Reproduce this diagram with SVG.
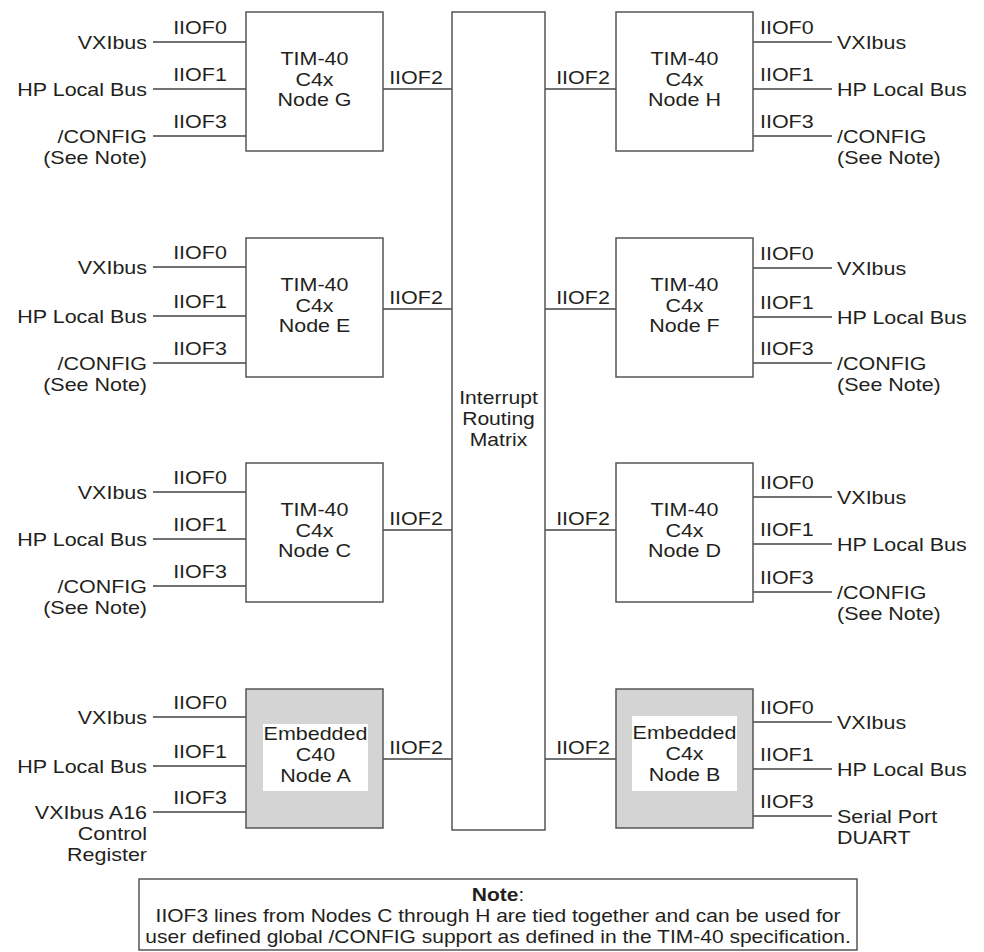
<svg xmlns="http://www.w3.org/2000/svg" width="984" height="952" viewBox="0 0 984 952">
<style>
text{font-family:"Liberation Sans",Arial,Helvetica,sans-serif;font-size:18.2px;fill:#231f20}
.n{font-size:17.8px}
.e{text-anchor:end}.m{text-anchor:middle}
.box{fill:#fff;stroke:#555;stroke-width:1.5}
.gbox{fill:#d4d4d4;stroke:#555;stroke-width:1.5}
.inner{fill:#fff;stroke:none}
.w{stroke:#444;stroke-width:1.5;fill:none}
</style>
<rect width="984" height="952" fill="#fff"/>
<g id="connectors" class="w">
<path d="M153 42H246M153 89H246M153 136H246M383 89H452"/>
<path d="M153 267H246M153 316H246M153 363H246M383 309H452"/>
<path d="M153 492H246M153 539H246M153 586H246M383 530H452"/>
<path d="M153 717H246M153 766H246M153 812H246M383 759H452"/>
<path d="M753 42H832M753 89H832M753 136H832M545 89H616"/>
<path d="M753 268H832M753 317H832M753 363H832M545 309H616"/>
<path d="M753 497H832M753 544H832M753 592H832M545 530H616"/>
<path d="M753 722H832M753 769H832M753 816H832M545 759H616"/>
</g>
<g id="connector-labels">
<text class="m" transform="matrix(1.18 0 0 1 200 34)">IIOF0</text><text class="m" transform="matrix(1.18 0 0 1 200 81)">IIOF1</text><text class="m" transform="matrix(1.18 0 0 1 200 128)">IIOF3</text><text class="m" transform="matrix(1.18 0 0 1 416 84)">IIOF2</text>
<text class="m" transform="matrix(1.18 0 0 1 200 259)">IIOF0</text><text class="m" transform="matrix(1.18 0 0 1 200 308)">IIOF1</text><text class="m" transform="matrix(1.18 0 0 1 200 355)">IIOF3</text><text class="m" transform="matrix(1.18 0 0 1 416 304)">IIOF2</text>
<text class="m" transform="matrix(1.18 0 0 1 200 484)">IIOF0</text><text class="m" transform="matrix(1.18 0 0 1 200 531)">IIOF1</text><text class="m" transform="matrix(1.18 0 0 1 200 578)">IIOF3</text><text class="m" transform="matrix(1.18 0 0 1 416 525)">IIOF2</text>
<text class="m" transform="matrix(1.18 0 0 1 200 709)">IIOF0</text><text class="m" transform="matrix(1.18 0 0 1 200 758)">IIOF1</text><text class="m" transform="matrix(1.18 0 0 1 200 804)">IIOF3</text><text class="m" transform="matrix(1.18 0 0 1 416 754)">IIOF2</text>
<text transform="matrix(1.18 0 0 1 760 34)">IIOF0</text><text transform="matrix(1.18 0 0 1 760 81)">IIOF1</text><text transform="matrix(1.18 0 0 1 760 128)">IIOF3</text><text class="m" transform="matrix(1.18 0 0 1 583 84)">IIOF2</text>
<text transform="matrix(1.18 0 0 1 760 260)">IIOF0</text><text transform="matrix(1.18 0 0 1 760 309)">IIOF1</text><text transform="matrix(1.18 0 0 1 760 355)">IIOF3</text><text class="m" transform="matrix(1.18 0 0 1 583 304)">IIOF2</text>
<text transform="matrix(1.18 0 0 1 760 489)">IIOF0</text><text transform="matrix(1.18 0 0 1 760 536)">IIOF1</text><text transform="matrix(1.18 0 0 1 760 584)">IIOF3</text><text class="m" transform="matrix(1.18 0 0 1 583 525)">IIOF2</text>
<text transform="matrix(1.18 0 0 1 760 714)">IIOF0</text><text transform="matrix(1.18 0 0 1 760 761)">IIOF1</text><text transform="matrix(1.18 0 0 1 760 808)">IIOF3</text><text class="m" transform="matrix(1.18 0 0 1 583 754)">IIOF2</text>
</g>
<g id="endpoint-labels">
<text class="e" transform="matrix(1.18 0 0 1 147 49)">VXIbus</text><text class="e" transform="matrix(1.18 0 0 1 147 96)">HP Local Bus</text><text class="e" transform="matrix(1.18 0 0 1 147 143)">/CONFIG</text><text class="e" transform="matrix(1.18 0 0 1 147 164)">(See Note)</text>
<text class="e" transform="matrix(1.18 0 0 1 147 274)">VXIbus</text><text class="e" transform="matrix(1.18 0 0 1 147 323)">HP Local Bus</text><text class="e" transform="matrix(1.18 0 0 1 147 370)">/CONFIG</text><text class="e" transform="matrix(1.18 0 0 1 147 391)">(See Note)</text>
<text class="e" transform="matrix(1.18 0 0 1 147 499)">VXIbus</text><text class="e" transform="matrix(1.18 0 0 1 147 546)">HP Local Bus</text><text class="e" transform="matrix(1.18 0 0 1 147 593)">/CONFIG</text><text class="e" transform="matrix(1.18 0 0 1 147 614)">(See Note)</text>
<text class="e" transform="matrix(1.18 0 0 1 147 724)">VXIbus</text><text class="e" transform="matrix(1.18 0 0 1 147 773)">HP Local Bus</text><text class="e" transform="matrix(1.18 0 0 1 147 819)">VXIbus A16</text><text class="e" transform="matrix(1.18 0 0 1 147 840)">Control</text><text class="e" transform="matrix(1.18 0 0 1 147 861)">Register</text>
<text transform="matrix(1.18 0 0 1 837 49)">VXIbus</text><text transform="matrix(1.18 0 0 1 837 96)">HP Local Bus</text><text transform="matrix(1.18 0 0 1 837 143)">/CONFIG</text><text transform="matrix(1.18 0 0 1 837 164)">(See Note)</text>
<text transform="matrix(1.18 0 0 1 837 275)">VXIbus</text><text transform="matrix(1.18 0 0 1 837 324)">HP Local Bus</text><text transform="matrix(1.18 0 0 1 837 370)">/CONFIG</text><text transform="matrix(1.18 0 0 1 837 391)">(See Note)</text>
<text transform="matrix(1.18 0 0 1 837 504)">VXIbus</text><text transform="matrix(1.18 0 0 1 837 551)">HP Local Bus</text><text transform="matrix(1.18 0 0 1 837 599)">/CONFIG</text><text transform="matrix(1.18 0 0 1 837 620)">(See Note)</text>
<text transform="matrix(1.18 0 0 1 837 729)">VXIbus</text><text transform="matrix(1.18 0 0 1 837 776)">HP Local Bus</text><text transform="matrix(1.18 0 0 1 837 823)">Serial Port</text><text transform="matrix(1.18 0 0 1 837 844)">DUART</text>
</g>
<g id="matrix">
<rect class="box" x="452" y="12" width="93" height="818"/>
<text class="m" transform="matrix(1.16 0 0 1 498.5 404)">Interrupt</text><text class="m" transform="matrix(1.16 0 0 1 498.5 425)">Routing</text><text class="m" transform="matrix(1.16 0 0 1 498.5 446)">Matrix</text>
</g>
<g id="node-G">
<rect class="box" x="246" y="12" width="137" height="139"/>
<text class="m" transform="matrix(1.18 0 0 1 314.5 65)">TIM-40</text><text class="m" transform="matrix(1.18 0 0 1 314.5 86)">C4x</text><text class="m" transform="matrix(1.18 0 0 1 314.5 106)">Node G</text>
</g>
<g id="node-H">
<rect class="box" x="616" y="12" width="137" height="139"/>
<text class="m" transform="matrix(1.18 0 0 1 684.5 65)">TIM-40</text><text class="m" transform="matrix(1.18 0 0 1 684.5 86)">C4x</text><text class="m" transform="matrix(1.18 0 0 1 684.5 106)">Node H</text>
</g>
<g id="node-E">
<rect class="box" x="246" y="238" width="137" height="139"/>
<text class="m" transform="matrix(1.18 0 0 1 314.5 291)">TIM-40</text><text class="m" transform="matrix(1.18 0 0 1 314.5 312)">C4x</text><text class="m" transform="matrix(1.18 0 0 1 314.5 332)">Node E</text>
</g>
<g id="node-F">
<rect class="box" x="616" y="238" width="137" height="139"/>
<text class="m" transform="matrix(1.18 0 0 1 684.5 291)">TIM-40</text><text class="m" transform="matrix(1.18 0 0 1 684.5 312)">C4x</text><text class="m" transform="matrix(1.18 0 0 1 684.5 332)">Node F</text>
</g>
<g id="node-C">
<rect class="box" x="246" y="463" width="137" height="139"/>
<text class="m" transform="matrix(1.18 0 0 1 314.5 516)">TIM-40</text><text class="m" transform="matrix(1.18 0 0 1 314.5 537)">C4x</text><text class="m" transform="matrix(1.18 0 0 1 314.5 557)">Node C</text>
</g>
<g id="node-D">
<rect class="box" x="616" y="463" width="137" height="139"/>
<text class="m" transform="matrix(1.18 0 0 1 684.5 516)">TIM-40</text><text class="m" transform="matrix(1.18 0 0 1 684.5 537)">C4x</text><text class="m" transform="matrix(1.18 0 0 1 684.5 557)">Node D</text>
</g>
<g id="node-A">
<rect class="gbox" x="246" y="689" width="137" height="139"/>
<rect class="inner" x="263" y="724" width="105" height="67"/>
<text class="m" transform="matrix(1.18 0 0 1 315.5 740)">Embedded</text><text class="m" transform="matrix(1.18 0 0 1 315.5 761)">C40</text><text class="m" transform="matrix(1.18 0 0 1 315.5 782)">Node A</text>
</g>
<g id="node-B">
<rect class="gbox" x="616" y="689" width="137" height="139"/>
<rect class="inner" x="632" y="716" width="105" height="75"/>
<text class="m" transform="matrix(1.18 0 0 1 684.5 739)">Embedded</text><text class="m" transform="matrix(1.18 0 0 1 684.5 760)">C4x</text><text class="m" transform="matrix(1.18 0 0 1 684.5 781)">Node B</text>
</g>
<g id="note">
<rect class="box" x="139" y="879" width="718" height="71"/>
<text class="m n" transform="matrix(1.18 0 0 1 498 901)"><tspan font-weight="bold">Note</tspan>:</text>
<text class="m n" transform="matrix(1.18 0 0 1 498 922)">IIOF3 lines from Nodes C through H are tied together and can be used for</text>
<text class="m n" transform="matrix(1.18 0 0 1 498 943)">user defined global /CONFIG support as defined in the TIM-40 specification.</text>
</g>
</svg>
